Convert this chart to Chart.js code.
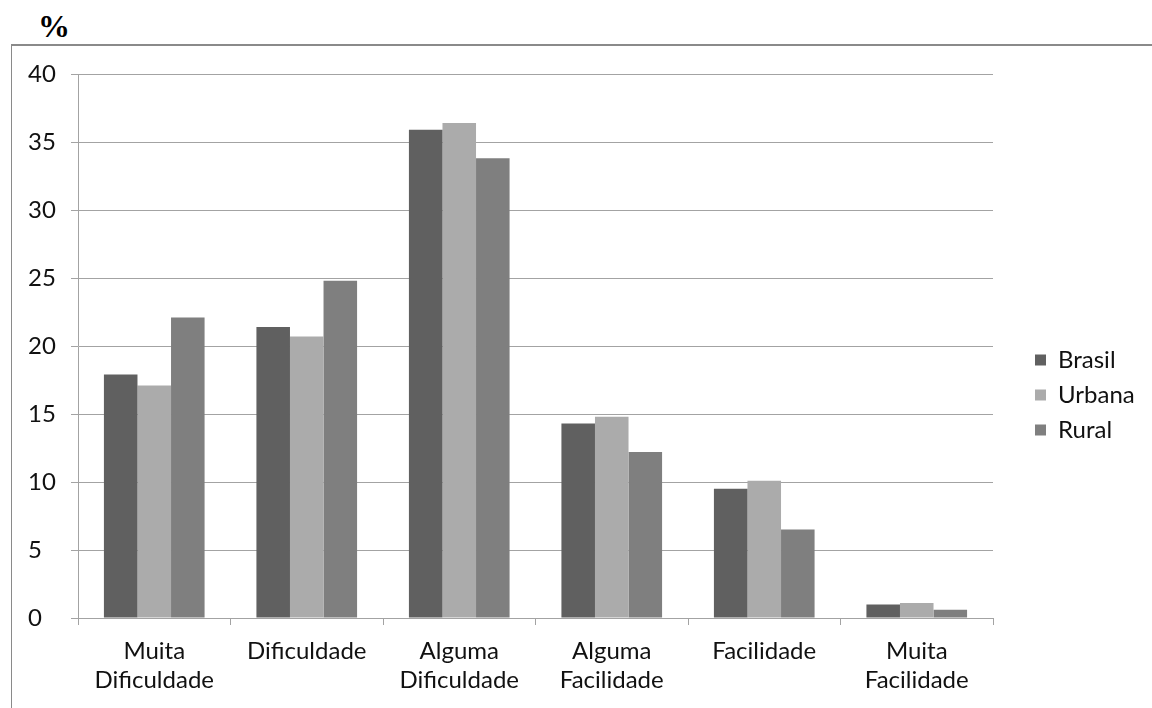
<!DOCTYPE html>
<html>
<head>
<meta charset="utf-8">
<script src="https://cdn.jsdelivr.net/npm/chart.js@4/dist/chart.umd.min.js"></script>
<style>
  html, body { margin: 0; padding: 0; background: #fff; }
  #wrap { position: relative; width: 1152px; height: 708px; overflow: hidden; }
  #frame { position: absolute; left: 11px; top: 44px; width: 1200px; height: 700px;
           border-top: 2px solid #8a8a8a; border-left: 1px solid #8a8a8a; }
  #pct { position: absolute; left: 38px; top: 10px; font-family: "Liberation Serif", serif;
         font-weight: bold; font-size: 32px; line-height: 32px; }
  #c { position: absolute; left: 0; top: 0; }
</style>
</head>
<body>
<div id="wrap">
  <div id="frame"></div>
  <div id="pct">%</div>
  <canvas id="c" width="1152" height="708"></canvas>
</div>
<script>
// categorias e valores (%)
const categories = [
  ['Muita', 'Dificuldade'],
  'Dificuldade',
  ['Alguma', 'Dificuldade'],
  ['Alguma', 'Facilidade'],
  'Facilidade',
  ['Muita', 'Facilidade']
];
const brasil = [17.9, 21.4, 35.9, 14.3, 9.5, 1.0];
const urbana = [17.1, 20.7, 36.4, 14.8, 10.1, 1.1];
const rural  = [22.1, 24.8, 33.8, 12.2, 6.5, 0.6];
const yTicks = [0, 5, 10, 15, 20, 25, 30, 35, 40];

const grid = '#a3a3a3';
const font = { family: 'Lato, Carlito, sans-serif', size: 24 };

// keep the legend at the right like the excel original
const legendPlacer = {
  id: 'legendPlacer',
  beforeLayout(chart) {
    const lg = chart.legend;
    if (lg && !lg._fixed) {
      const fit = lg.fit;
      lg.fit = function () { fit.call(this); this.width = 159; };
      lg._fixed = true;
    }
  },
  afterLayout(chart) {
    const lg = chart.legend;
    const dx = 1024 - lg.left;
    lg.left += dx; lg.right += dx;
    lg.top = 195; lg.bottom = 595;
  }
};

new Chart(document.getElementById('c').getContext('2d'), {
  type: 'bar',
  data: {
    labels: categories,
    datasets: [
      { label: 'Brasil', data: brasil, backgroundColor: '#606060' },
      { label: 'Urbana', data: urbana, backgroundColor: '#ababab' },
      { label: 'Rural', data: rural, backgroundColor: '#7f7f7f' }
    ]
  },
  plugins: [legendPlacer],
  options: {
    responsive: false,
    animation: false,
    devicePixelRatio: 1,
    layout: { padding: { top: 74, left: 28, right: 0, bottom: 0 } },
    datasets: { bar: { categoryPercentage: 0.66, barPercentage: 1.0 } },
    plugins: {
      title: { display: false },
      tooltip: { enabled: false },
      legend: {
        position: 'right',
        labels: { boxWidth: 11, boxHeight: 11, padding: 11, color: '#111', font: font }
      }
    },
    scales: {
      x: {
        grid: { drawOnChartArea: false, drawTicks: true, tickLength: 7, color: grid, offset: true },
        border: { display: true, color: grid },
        ticks: { color: '#111', font: font, padding: 12, maxRotation: 0, autoSkip: false },
        afterFit(s) { s.height = 90; }
      },
      y: {
        min: 0, max: 40,
        afterBuildTicks(s) { s.ticks = yTicks.map(v => ({ value: v })); },
        grid: { color: grid, tickLength: 7 },
        border: { display: true, color: grid },
        ticks: { color: '#111', font: font, padding: 10, crossAlign: 'far' },
        afterFit(s) { s.width = 50; }
      }
    }
  }
});
</script>
</body>
</html>
